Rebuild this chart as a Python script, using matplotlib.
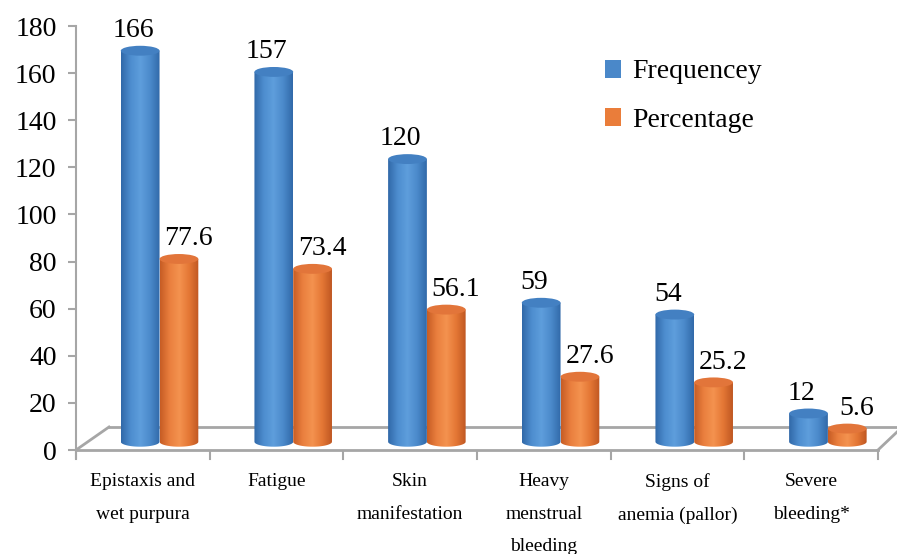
import numpy as np
import matplotlib
matplotlib.use("Agg")
import matplotlib.pyplot as plt
from matplotlib.path import Path
from matplotlib.patches import PathPatch, Ellipse, Patch

categories = ["Epistaxis and\nwet purpura", "Fatigue", "Skin\nmanifestation",
              "Heavy\nmenstrual\nbleeding", "Signs of\nanemia (pallor)", "Severe\nbleeding*"]
frequency = [166, 157, 120, 59, 54, 12]
percentage = [77.6, 73.4, 56.1, 27.6, 25.2, 5.6]
yticks = [0, 20, 40, 60, 80, 100, 120, 140, 160, 180]

plt.rcParams['font.family'] = ['Liberation Serif', 'DejaVu Serif']

fig = plt.figure(figsize=(8.97, 5.54), dpi=100)
ax = fig.add_axes([76 / 897, 104 / 554, 802 / 897, 424 / 554])

grey = "#a6a6a6"
bw = 0.29      # cylinder width (category units)
eh = 4.2       # cap ellipse height (value units)
lift = 3.5     # cylinders stand on the floor, a bit above zero


def cylinder(xc, value, body, cap):
    x0, x1 = xc - bw / 2, xc + bw / 2
    y0, y1 = lift, value + lift
    t = np.linspace(np.pi, 2 * np.pi, 40)
    bx = xc + bw / 2 * np.cos(t)
    by = y0 + eh / 2 * np.sin(t)
    verts = [(x0, y1)] + list(zip(bx, by)) + [(x1, y1), (x0, y1)]
    codes = [Path.MOVETO] + [Path.LINETO] * (len(verts) - 2) + [Path.CLOSEPOLY]
    shape = PathPatch(Path(verts, codes), facecolor="none", edgecolor="none")
    ax.add_patch(shape)
    grad = matplotlib.colors.LinearSegmentedColormap.from_list("c", body)
    img = ax.imshow(np.linspace(0, 1, 256)[None, :], cmap=grad, aspect="auto",
                    extent=(x0, x1, y0 - eh, y1), interpolation="bilinear", zorder=2)
    img.set_clip_path(shape)
    ax.add_patch(Ellipse((xc, y1), bw, eh, facecolor=cap, edgecolor="none", zorder=3))


blue_body = ["#3068a8", "#4d8dcf", "#5e9edc", "#4b8acb", "#3169a9"]
orange_body = ["#c65c24", "#ea7f3e", "#f4924f", "#e47735", "#bf5722"]

for i, (f, p) in enumerate(zip(frequency, percentage)):
    cylinder(i - 0.02, f, blue_body, "#4380c2")
    cylinder(i + 0.27, p, orange_body, "#e2753a")
    ax.annotate(str(f), (i - 0.02, f + lift + eh / 2), xytext=(-5, 2),
                textcoords="offset points", ha="center", va="bottom", fontsize=20)
    ax.annotate(f"{p:.1f}", (i + 0.27, p + lift + eh / 2), xytext=(7, 2),
                textcoords="offset points", ha="center", va="bottom", fontsize=20)

# floor of the 3D box
k = 180 / 424
back = 23 * k
ax.plot([-0.5, 5.5], [0, 0], color=grey, lw=2, zorder=1, clip_on=False)
ax.plot([-0.5 + 33 / 133.7, 5.5 + 19 / 133.7], [back, back], color=grey, lw=2, zorder=1, clip_on=False)
ax.plot([-0.5, -0.5 + 33 / 133.7], [0, back], color=grey, lw=2, zorder=1, clip_on=False)
ax.plot([5.5, 5.5 + 19 / 133.7], [0, 18 * k], color=grey, lw=2, zorder=1, clip_on=False)

ax.set_xlim(-0.5, 5.5)
ax.set_ylim(0, 180)
for s in ["top", "right", "bottom"]:
    ax.spines[s].set_visible(False)
ax.spines["left"].set_color(grey)
ax.spines["left"].set_linewidth(1.5)
ax.spines["left"].set_bounds(-8 * k, 180)
ax.set_yticks(yticks)
ax.tick_params(axis="y", colors=grey, labelcolor="black", labelsize=20, length=6, width=1.5, pad=8)
ax.set_xticks([])

for i in range(7):
    ax.plot([i - 0.5, i - 0.5], [-1 * k, -9 * k], color=grey, lw=1.5, clip_on=False)
for i, c in enumerate(categories):
    ax.text(i, -23 * k, c, ha="center", va="top", fontsize=14, linespacing=2.2)

handles = [Patch(facecolor="#4a88c9"), Patch(facecolor="#ea7d3a")]
ax.legend(handles, ["Frequencey", "Percentage"], loc="upper left", bbox_to_anchor=(0.628, 0.98),
          frameon=False, fontsize=20, handlelength=0.6, handleheight=0.6, handletextpad=0.4,
          labelspacing=0.85)

fig.savefig("out.png", dpi=100)
